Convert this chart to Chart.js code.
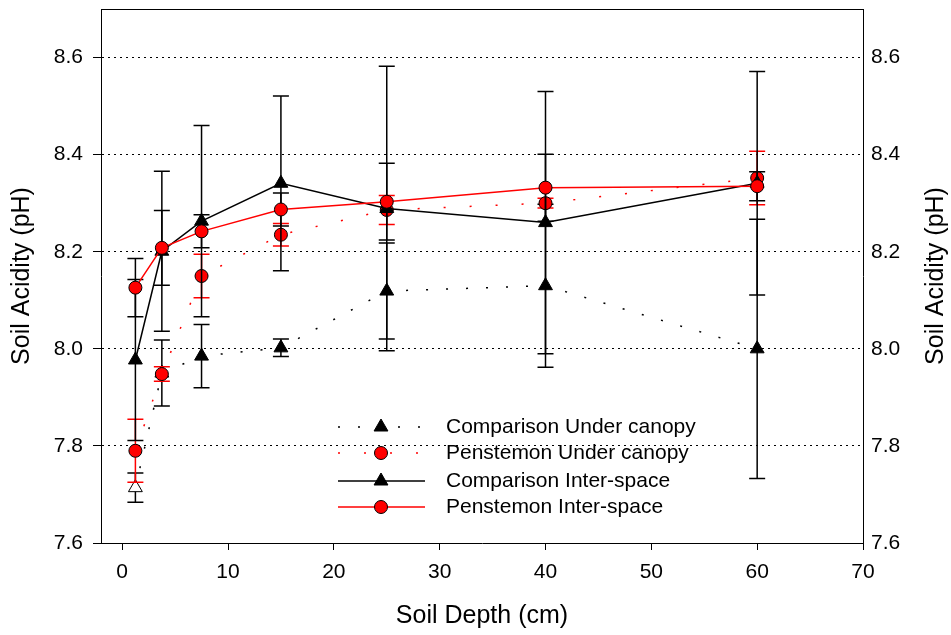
<!DOCTYPE html>
<html>
<head>
<meta charset="utf-8">
<script src="https://cdn.jsdelivr.net/npm/chart.js@4.4.1/dist/chart.umd.min.js"></script>
<style>
    html, body { margin: 0; padding: 0; background: #fff; }
</style>
</head>
<body>
<canvas id="chart" width="951" height="635"></canvas>
<script>
// sampling depths (cm)
const depths = [1.25, 3.75, 7.5, 15, 25, 40, 60];
const xTicks = [0, 10, 20, 30, 40, 50, 60, 70];
const yTicks = [7.6, 7.8, 8.0, 8.2, 8.4, 8.6];

// soil pH means and error bar half-lengths
const compUnder = [7.714, 7.95, 7.985, 8.002, 8.119, 8.13, 8.0];
const compUnderErr = [0.03, 0.068, 0.065, 0.018, 0.099, 0.168, 0.267];
const penUnder = [7.79, 7.948, 8.15, 8.235, 8.286, 8.30, 8.352];
const penUnderErr = [0.065, 0.015, 0.045, 0.023, 0.03, 0.01, 0.055];
const compInter = [7.977, 8.201, 8.263, 8.341, 8.289, 8.26, 8.341];
const compInterErr = [0.166, 0.165, 0.197, 0.18, 0.293, 0.27, 0.23];
const penInter = [8.126, 8.208, 8.242, 8.287, 8.303, 8.332, 8.335];
const penInterErr = [0.06, 0.077, 0.034, 0.034, 0.079, 0.069, 0.03];

const FONT = "'Liberation Sans', Arial, sans-serif";

function pts(values) {
    return depths.map((d, i) => ({ x: d, y: values[i] }));
}

// keep the y axes from reserving space for half a label at the ends
function fitY(width) {
    return scale => {
        scale.width = width;
        scale.paddingTop = 0;
        scale.paddingBottom = 0;
    };
}

// error bars, drawn just before each dataset so markers sit on top
const errorBars = {
    id: 'errorBars',
    beforeDatasetDraw(chart, args) {
        const ds = chart.data.datasets[args.index];
        if (!ds.errors) return;
        const ctx = chart.ctx;
        const yScale = chart.scales.y;
        ctx.save();
        ctx.strokeStyle = ds.errorColor;
        ctx.lineWidth = 1.5;
        args.meta.data.forEach((p, i) => {
            const v = ds.data[i].y;
            const top = yScale.getPixelForValue(v + ds.errors[i]);
            const bot = yScale.getPixelForValue(v - ds.errors[i]);
            ctx.beginPath();
            ctx.moveTo(p.x, top); ctx.lineTo(p.x, bot);
            ctx.moveTo(p.x - 8, top); ctx.lineTo(p.x + 8, top);
            ctx.moveTo(p.x - 8, bot); ctx.lineTo(p.x + 8, bot);
            ctx.stroke();
        });
        ctx.restore();
    }
};

// frame, axis titles and the legend inside the plot
const extras = {
    id: 'extras',
    afterDraw(chart) {
        const ctx = chart.ctx;
        const a = chart.chartArea;
        ctx.save();
        ctx.strokeStyle = '#000';
        ctx.lineWidth = 1;
        ctx.beginPath();
        ctx.moveTo(a.left, a.top + 0.5);
        ctx.lineTo(a.right, a.top + 0.5);
        ctx.stroke();

        ctx.fillStyle = '#000';
        ctx.font = '25px ' + FONT;
        ctx.textAlign = 'center';
        ctx.textBaseline = 'middle';
        ctx.fillText('Soil Depth (cm)', (a.left + a.right) / 2, 616);
        const midY = (a.top + a.bottom) / 2;
        [22, 936].forEach(x => {
            ctx.save();
            ctx.translate(x, midY);
            ctx.rotate(-Math.PI / 2);
            ctx.fillText('Soil Acidity (pH)', 0, 0);
            ctx.restore();
        });

        // legend
        const rowsY = [427, 453, 481, 507];
        ctx.font = '21px ' + FONT;
        ctx.textAlign = 'left';
        chart.data.datasets.forEach((ds, i) => {
            const y = rowsY[i];
            ctx.save();
            ctx.strokeStyle = ds.borderColor;
            ctx.lineWidth = ds.borderWidth;
            ctx.setLineDash(ds.borderDash || []);
            ctx.beginPath();
            ctx.moveTo(338, y); ctx.lineTo(425, y);
            ctx.stroke();
            ctx.setLineDash([]);
            ctx.fillStyle = ds.legendFill;
            ctx.strokeStyle = '#000';
            ctx.lineWidth = 1;
            Chart.helpers.drawPoint(ctx, { pointStyle: ds.pointStyle, radius: ds.pointRadius, borderWidth: 1, rotation: 0 }, 381, y);
            ctx.restore();
            ctx.fillText(ds.label, 446, y);
        });
        ctx.restore();
    }
};

new Chart(document.getElementById('chart'), {
    type: 'line',
    data: {
        datasets: [{
            label: 'Comparison Under canopy',
            data: pts(compUnder),
            errors: compUnderErr,
            errorColor: '#000',
            borderColor: '#000',
            borderWidth: 1.5,
            borderDash: [2, 18],
            pointStyle: 'triangle',
            pointRadius: 8,
            pointBorderWidth: 1,
            pointBorderColor: '#000',
            pointBackgroundColor: ['#fff', '#000', '#000', '#000', '#000', '#000', '#000'],
            legendFill: '#000',
            order: 4
        }, {
            label: 'Penstemon Under canopy',
            data: pts(penUnder),
            errors: penUnderErr,
            errorColor: '#ff0000',
            borderColor: '#ff0000',
            borderWidth: 1.5,
            borderDash: [2, 24],
            pointStyle: 'circle',
            pointRadius: 6.5,
            pointBorderWidth: 1,
            pointBorderColor: '#000',
            pointBackgroundColor: '#ff0000',
            legendFill: '#ff0000',
            order: 3
        }, {
            label: 'Comparison Inter-space',
            data: pts(compInter),
            errors: compInterErr,
            errorColor: '#000',
            borderColor: '#000',
            borderWidth: 1.5,
            pointStyle: 'triangle',
            pointRadius: 8,
            pointBorderWidth: 1,
            pointBorderColor: '#000',
            pointBackgroundColor: '#000',
            legendFill: '#000',
            order: 2
        }, {
            label: 'Penstemon Inter-space',
            data: pts(penInter),
            errors: penInterErr,
            errorColor: '#000',
            borderColor: '#ff0000',
            borderWidth: 1.5,
            pointStyle: 'circle',
            pointRadius: 6.5,
            pointBorderWidth: 1,
            pointBorderColor: '#000',
            pointBackgroundColor: '#ff0000',
            legendFill: '#ff0000',
            order: 1
        }]
    },
    options: {
        responsive: false,
        animation: false,
        layout: { padding: { top: 8, left: 0, right: 0, bottom: 0 } },
        plugins: {
            legend: { display: false },
            tooltip: { enabled: false }
        },
        scales: {
            x: {
                type: 'linear',
                min: -2,
                max: 70,
                afterBuildTicks: scale => { scale.ticks = xTicks.map(v => ({ value: v })); },
                afterFit: scale => { scale.height = 92; scale.paddingLeft = 0; scale.paddingRight = 0; },
                ticks: { color: '#000', font: { family: FONT, size: 21 }, padding: 10, maxRotation: 0 },
                grid: { drawOnChartArea: false, drawTicks: true, tickLength: 7, tickColor: '#000', tickWidth: 1 },
                border: { display: true, color: '#000', width: 1 }
            },
            y: {
                position: 'left',
                min: 7.6,
                max: 8.7,
                afterBuildTicks: scale => { scale.ticks = yTicks.map(v => ({ value: v })); },
                afterFit: fitY(101),
                ticks: { color: '#000', font: { family: FONT, size: 21 }, padding: 10, callback: v => v.toFixed(1) },
                grid: { color: '#000', lineWidth: 1, drawTicks: true, tickLength: 8, tickColor: '#000', tickBorderDash: [] },
                border: { display: true, color: '#000', width: 1, dash: [2, 4] }
            },
            y2: {
                position: 'right',
                min: 7.6,
                max: 8.7,
                afterBuildTicks: scale => { scale.ticks = yTicks.map(v => ({ value: v })); },
                afterFit: fitY(88),
                ticks: { color: '#000', font: { family: FONT, size: 21 }, padding: 8, callback: v => v.toFixed(1) },
                grid: { drawOnChartArea: false, drawTicks: false },
                border: { display: true, color: '#000', width: 1 }
            }
        }
    },
    plugins: [errorBars, extras]
});
</script>
</body>
</html>
